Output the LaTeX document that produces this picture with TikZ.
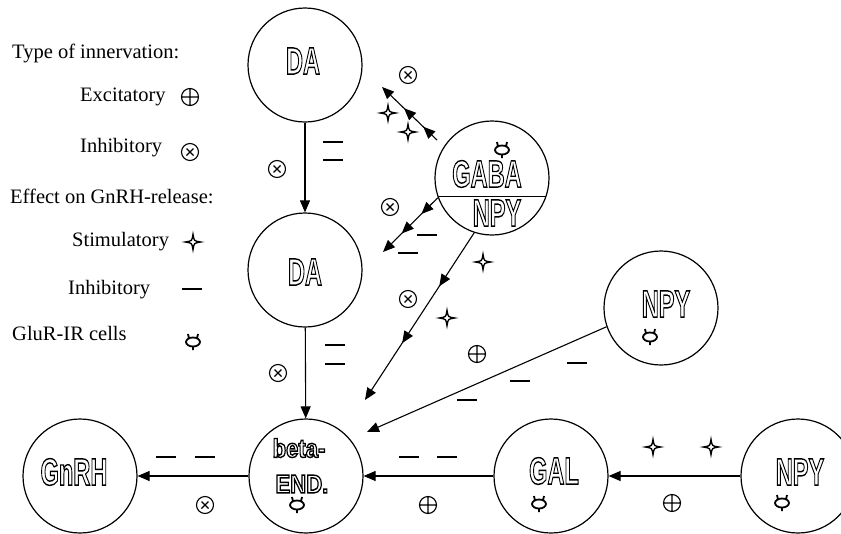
\documentclass[tikz,border=0pt]{standalone}
\usepackage{fontspec}
\setmainfont{Liberation Serif}
\setsansfont{Liberation Sans}
\usetikzlibrary{arrows.meta,decorations.markings}

% hollow (stroked) letters for the cell names
\newcommand{\nlab}[2][0.62]{\scalebox{#1}[1]{\special{pdf:literal direct q 1 Tr 1.4 w}#2\special{pdf:literal direct Q}}}

\begin{document}
\begin{tikzpicture}[x=1pt, y=-1pt,
  neuron/.style={draw, circle, line width=1.2pt, minimum size=114pt, inner sep=0pt},
  nname/.style={font=\sffamily\bfseries\fontsize{38}{38}\selectfont, inner sep=0pt},
  bname/.style={font=\sffamily\bfseries\fontsize{26}{26}\selectfont, inner sep=0pt},
  legend/.style={anchor=west, font=\fontsize{20.5}{22}\selectfont, inner sep=0pt},
  conn/.style={line width=1.1pt, -{Triangle[length=12pt,width=10pt]}},
  midarrows/.style 2 args={postaction={decorate}, decoration={markings,
    mark=at position #1 with {\arrow{Triangle[length=12pt,width=10pt]}},
    mark=at position #2 with {\arrow{Triangle[length=12pt,width=10pt]}}}},
  pics/excit/.style={code={\draw[line width=1.1pt] (0,0) circle (8.5pt) (-8.5,0) -- (8.5,0) (0,-8.5) -- (0,8.5);}},
  pics/inhib/.style={code={\draw[line width=1.1pt] (0,0) circle (8.5pt) (-3.5,-3.5) -- (3.5,3.5) (-3.5,3.5) -- (3.5,-3.5);}},
  pics/stim/.style={code={\draw[line width=1.4pt] (0,-7.5) .. controls (1,-1) .. (7.5,0)
      .. controls (1,1) .. (0,7.5) .. controls (-1,1) .. (-7.5,0)
      .. controls (-1,-1) .. cycle;}},
  pics/minus/.style={code={\draw[line width=1.3pt] (-10,0) -- (10,0);}},
  pics/gcell/.style={code={\draw[line width=1.8pt] (0,0) ellipse (7pt and 4.5pt)
      (-4,-3.5) -- (-5,-8) (4,-3.5) -- (5,-8) (0,4.5) -- (0,8);}}]

  \useasboundingbox (0,0) rectangle (841,533);

  % legend
  \node[legend] (leg1) at (12,53) {Type of innervation:};
  \node[legend] (leg2) at (80,97) {Excitatory};
  \pic at (190,97) {excit};
  \node[legend] (leg3) at (80,148) {Inhibitory};
  \pic at (190,152) {inhib};
  \node[legend] (leg4) at (10,196) {Effect on GnRH-release:};
  \node[legend] (leg5) at (72,242) {Stimulatory};
  \pic at (193,242) {stim};
  \node[legend] (leg6) at (68,290) {Inhibitory};
  \pic at (192,289) {minus};
  \node[legend] (leg7) at (12,333) {GluR-IR cells};
  \pic at (193,342) {gcell};

  % neurons
  \node[neuron] (da1) at (305,65) {};
  \node[neuron] (da2) at (305,270) {};
  \node[neuron] (bend) at (306,476) {};
  \node[neuron] (gnrh) at (80,476) {};
  \node[neuron] (gal) at (551,476) {};
  \node[neuron] (npyA) at (661,308) {};
  \node[neuron] (npyB) at (798,476) {};
  \node[neuron] (gaba) at (492,178) {};
  \draw[line width=1.2pt] (gaba.199.5) -- (gaba.-19.5);

  % names inside the neurons
  \node[nname] (da1t) at (303,61) {\nlab{DA}};
  \node[nname] (da2t) at (305,272) {\nlab{DA}};
  \node[nname] (gnrht) at (74,472) {\nlab{GnRH}};
  \node[nname] (galt) at (554,471) {\nlab{GAL}};
  \node[nname] (npyAt) at (666,304) {\nlab{NPY}};
  \node[nname] (npyBt) at (800,472) {\nlab{NPY}};
  \node[nname] (gabat) at (487,174) {\nlab{GABA}};
  \node[nname] (gnpyt) at (497,213) {\nlab{NPY}};
  \node[bname] (bendA) at (299,448) {\nlab[0.85]{beta-}};
  \node[bname] (bendB) at (302,484) {\nlab[0.85]{END.}};

  % GluR cells
  \pic at (502,150) {gcell};
  \pic at (297,505) {gcell};
  \pic at (539,504) {gcell};
  \pic at (650,337) {gcell};
  \pic at (782,503) {gcell};

  % connections
  \draw[conn] (da1) -- (da2);
  \draw[conn] (da2) -- (bend);
  \draw[conn] (bend) -- (gnrh);
  \draw[conn] (gal) -- (bend);
  \draw[conn] (npyB) -- (gal);
  \coordinate (t6) at (367,432);
  \draw[conn] (npyA.199) -- (t6);
  \coordinate (t7) at (365,400);
  \draw[conn, midarrows={0.32}{0.66}] (gaba.-108) -- (t7);
  \coordinate (t8) at (383,252);
  \draw[conn, midarrows={0.3}{0.66}] (gaba.200) -- (t8);
  \coordinate (s9) at (437,140);
  \coordinate (t9) at (382,87);
  \draw[conn, midarrows={0.25}{0.6}] (s9) -- (t9);

  % signs along the connections
  \pic at (277,169) {inhib};
  \pic at (333,142) {minus};
  \pic at (333,160) {minus};
  \pic at (278,373) {inhib};
  \pic at (335,345) {minus};
  \pic at (335,364) {minus};
  \pic at (166,457) {minus};
  \pic at (205,457) {minus};
  \pic at (205,505) {inhib};
  \pic at (409,457) {minus};
  \pic at (447,457) {minus};
  \pic at (428,505) {excit};
  \pic at (653,447) {stim};
  \pic at (711,447) {stim};
  \pic at (672,503) {excit};
  \pic at (467,400) {minus};
  \pic at (520,381) {minus};
  \pic at (577,363) {minus};
  \pic at (477,354) {excit};
  \pic at (483,262) {stim};
  \pic at (447,318) {stim};
  \pic at (408,299) {inhib};
  \pic at (390,207) {inhib};
  \pic at (427,235) {minus};
  \pic at (408,253) {minus};
  \pic at (408,75) {inhib};
  \pic at (388,113) {stim};
  \pic at (408,132) {stim};

\end{tikzpicture}
\end{document}
